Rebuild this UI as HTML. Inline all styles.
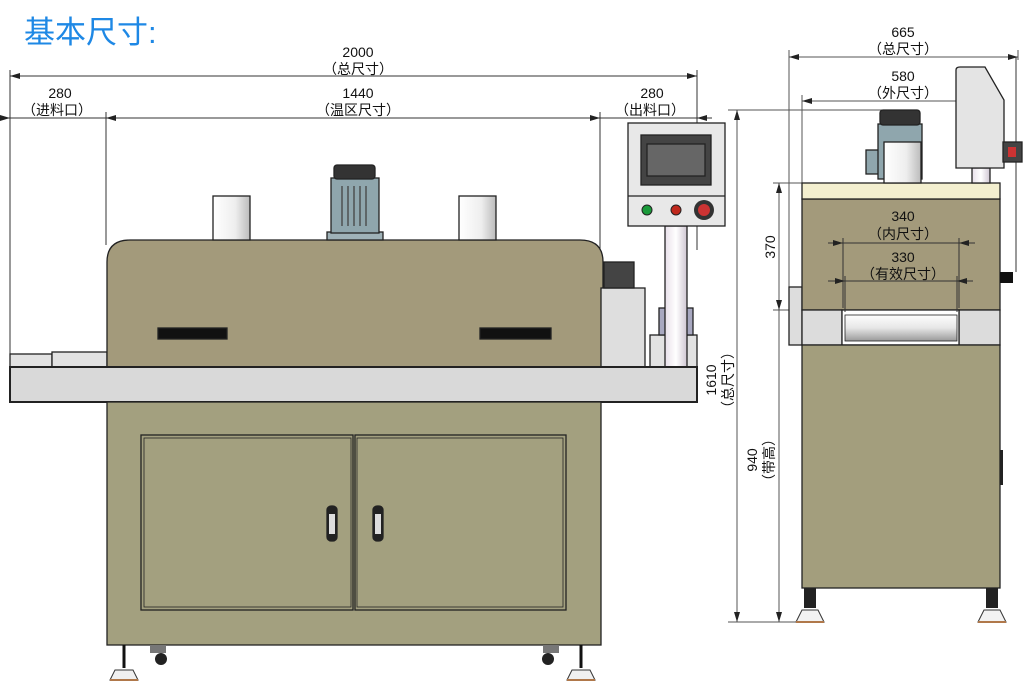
<!DOCTYPE html>
<html><head><meta charset="utf-8"><style>
html,body{margin:0;padding:0;background:#fff}
svg{display:block}
text{font-family:"Liberation Sans","Noto Sans CJK SC",sans-serif;fill:#111}
</style></head><body>
<svg width="1028" height="694" viewBox="0 0 1028 694" xmlns="http://www.w3.org/2000/svg">
<defs>
<marker id="a" markerWidth="10" markerHeight="6" refX="10" refY="3" orient="auto-start-reverse" markerUnits="userSpaceOnUse"><path d="M0,0 L10,3 L0,6 Z" fill="#222"/></marker>
<linearGradient id="cyl" x1="0" x2="1"><stop offset="0" stop-color="#fff"/><stop offset="0.6" stop-color="#eee"/><stop offset="1" stop-color="#bbb"/></linearGradient>
<linearGradient id="pole" x1="0" x2="1"><stop offset="0" stop-color="#e8e0ea"/><stop offset="0.5" stop-color="#fff"/><stop offset="1" stop-color="#cfc6d2"/></linearGradient>
<linearGradient id="roll" x1="0" x2="0" y1="0" y2="1"><stop offset="0" stop-color="#fff"/><stop offset="0.5" stop-color="#e6e6e6"/><stop offset="1" stop-color="#999"/></linearGradient>
</defs>

<text x="24" y="43" style="font-size:31px;fill:#1e88e5">基本尺寸:</text>

<!-- left dims -->
<g stroke="#333" stroke-width="1" fill="none">
<line x1="10" y1="70" x2="10" y2="370"/>
<line x1="697" y1="70" x2="697" y2="250"/>
<line x1="10" y1="76" x2="697" y2="76" marker-start="url(#a)" marker-end="url(#a)"/>
<line x1="106" y1="112" x2="106" y2="245"/>
<line x1="600" y1="112" x2="600" y2="255"/>
<line x1="0" y1="118" x2="10" y2="118" marker-end="url(#a)"/>
<line x1="10" y1="118" x2="106" y2="118"/>
<line x1="106" y1="118" x2="600" y2="118" marker-start="url(#a)" marker-end="url(#a)"/>
<line x1="600" y1="118" x2="697" y2="118"/>
<line x1="712" y1="118" x2="697" y2="118" marker-end="url(#a)"/>
</g>
<g style="font-size:14px" text-anchor="middle">
<text x="358" y="57">2000</text><text x="358" y="74">（总尺寸）</text>
<text x="60" y="98">280</text><text x="57" y="115">（进料口）</text>
<text x="358" y="98">1440</text><text x="358" y="115">（温区尺寸）</text>
<text x="652" y="98">280</text><text x="650" y="115">（出料口）</text>
</g>

<!-- left machine -->
<g stroke="#222" stroke-width="1.3">
<rect x="10" y="354" width="42" height="13" fill="#e2e2e2"/>
<rect x="52" y="352" width="55" height="15" fill="#e2e2e2"/>
<path d="M107,367 V262 Q107,240 130,240 H580 Q603,240 603,262 V367 Z" fill="#a39a7b"/>
<rect x="158" y="328" width="69" height="11" fill="#111"/>
<rect x="480" y="328" width="71" height="11" fill="#111"/>
<rect x="213" y="196" width="37" height="44" fill="url(#cyl)"/>
<rect x="459" y="196" width="37" height="44" fill="url(#cyl)"/>
<rect x="327" y="232" width="56" height="8" fill="#9fb2b8"/>
<rect x="331" y="178" width="48" height="55" fill="#8fa6ad"/>
<rect x="334" y="165" width="41" height="14" rx="3" fill="#333"/>
<rect x="601" y="288" width="44" height="79" fill="#dedede"/>
<rect x="604" y="262" width="30" height="26" fill="#444"/>
<rect x="650" y="335" width="47" height="32" fill="#e2e2e2"/>
<rect x="659" y="308" width="7" height="27" fill="#a8a8c0"/>
<rect x="686" y="308" width="7" height="27" fill="#a8a8c0"/>
<rect x="665" y="226" width="22" height="141" fill="url(#pole)"/>
<rect x="628" y="123" width="97" height="103" fill="#e8e8e8"/>
<line x1="628" y1="196" x2="725" y2="196"/>
<rect x="641" y="135" width="70" height="50" fill="#444"/>
<rect x="647" y="144" width="58" height="32" fill="#666"/>
<rect x="10" y="367" width="687" height="35" fill="#d9d9d9" stroke-width="2"/>
<rect x="107" y="402" width="494" height="243" fill="#a3a07f"/>
<rect x="141" y="435" width="212" height="175" fill="#a3a07f"/>
<rect x="355" y="435" width="211" height="175" fill="#a3a07f"/>
<rect x="144" y="438" width="207" height="169" fill="none" stroke-width="0.8"/>
<rect x="357" y="438" width="206" height="169" fill="none" stroke-width="0.8"/>
<rect x="327" y="506" width="10" height="35" rx="4" fill="#222"/>
<rect x="373" y="506" width="10" height="35" rx="4" fill="#222"/>
</g>
<rect x="329" y="514" width="6" height="20" fill="#ddd"/>
<rect x="375" y="514" width="6" height="20" fill="#ddd"/>
<g stroke="#444" stroke-width="1.3">
<line x1="342" y1="186" x2="342" y2="226"/><line x1="348" y1="186" x2="348" y2="226"/><line x1="354" y1="186" x2="354" y2="226"/><line x1="360" y1="186" x2="360" y2="226"/><line x1="366" y1="186" x2="366" y2="226"/>
</g>
<circle cx="647" cy="210" r="5" fill="#1a9a3a" stroke="#222"/>
<circle cx="676" cy="210" r="5" fill="#c0281c" stroke="#222"/>
<circle cx="704" cy="210" r="10" fill="#333"/><circle cx="704" cy="210" r="6" fill="#c33"/>
<!-- feet left -->
<g stroke="#111">
<line x1="124" y1="645" x2="124" y2="668" stroke-width="3"/>
<line x1="581" y1="645" x2="581" y2="668" stroke-width="3"/>
</g>
<path d="M110,680 L115,670 H133 L138,680 Z" fill="#f0f0f0" stroke="#333"/>
<path d="M567,680 L572,670 H590 L595,680 Z" fill="#f0f0f0" stroke="#333"/>
<rect x="110" y="679" width="28" height="2" fill="#b0784a"/><rect x="567" y="679" width="28" height="2" fill="#b0784a"/>
<circle cx="161" cy="659" r="6" fill="#222"/><circle cx="548" cy="659" r="6" fill="#222"/>
<rect x="150" y="645" width="16" height="8" fill="#777"/><rect x="543" y="645" width="16" height="8" fill="#777"/>

<!-- right view dims -->
<g stroke="#555" stroke-width="1" fill="none">
<line x1="789" y1="50" x2="789" y2="290"/>
<line x1="1018" y1="50" x2="1018" y2="60"/>
<line x1="1016" y1="57" x2="1016" y2="272" stroke="#333"/>
<line x1="789" y1="57" x2="1018" y2="57" marker-start="url(#a)" marker-end="url(#a)"/>
<line x1="802" y1="95" x2="802" y2="183"/>
<line x1="802" y1="101" x2="998" y2="101" marker-start="url(#a)"/>
<line x1="728" y1="110" x2="882" y2="110"/>
<line x1="737" y1="110" x2="737" y2="622" marker-start="url(#a)" marker-end="url(#a)"/>
<line x1="773" y1="183" x2="802" y2="183"/>
<line x1="773" y1="310" x2="802" y2="310"/>
<line x1="779" y1="183" x2="779" y2="310" marker-start="url(#a)" marker-end="url(#a)"/>
<line x1="779" y1="310" x2="779" y2="622" marker-end="url(#a)"/>
<line x1="728" y1="622" x2="800" y2="622"/>
</g>
<g style="font-size:14px" text-anchor="middle">
<text x="903" y="37">665</text><text x="903" y="54">（总尺寸）</text>
<text x="903" y="81">580</text><text x="903" y="98">（外尺寸）</text>
</g>
<text transform="translate(775,247) rotate(-90)" text-anchor="middle" style="font-size:14px">370</text>
<text transform="translate(716,380) rotate(-90)" text-anchor="middle" style="font-size:14px">1610</text>
<text transform="translate(733,380) rotate(-90)" text-anchor="middle" style="font-size:14px">（总尺寸）</text>
<text transform="translate(757,460) rotate(-90)" text-anchor="middle" style="font-size:14px">940</text>
<text transform="translate(774,460) rotate(-90)" text-anchor="middle" style="font-size:14px">（带高）</text>

<!-- right machine -->
<g stroke="#222" stroke-width="1.3">
<rect x="789" y="287" width="13" height="58" fill="#ddd"/>
<rect x="802" y="199" width="198" height="111" fill="#a39a7b"/>
<rect x="802" y="183" width="198" height="16" fill="#f3efcf"/>
<rect x="802" y="310" width="40" height="35" fill="#dcdcdc"/>
<rect x="959" y="310" width="41" height="35" fill="#dcdcdc"/>
<rect x="842" y="310" width="117" height="35" fill="#fff"/>
<rect x="845" y="315" width="112" height="26" fill="url(#roll)" stroke-width="0.8"/>
<rect x="802" y="345" width="198" height="243" fill="#a39e7d"/>
<rect x="866" y="150" width="20" height="24" fill="#8fa6ad"/>
<rect x="878" y="124" width="44" height="55" fill="#8fa6ad"/>
<rect x="880" y="110" width="40" height="15" rx="3" fill="#333"/>
<rect x="884" y="142" width="37" height="41" fill="url(#cyl)"/>
<rect x="972" y="168" width="18" height="15" fill="url(#pole)"/>
<path d="M956,70 Q956,67 960,67 H985 L1004,100 V168 H956 Z" fill="#e4e4e4"/>
<rect x="1003" y="142" width="19" height="20" fill="#444"/>
</g>
<rect x="1008" y="147" width="8" height="10" fill="#c33"/>
<rect x="1000" y="272" width="13" height="11" fill="#111"/>
<rect x="1000" y="450" width="3" height="35" fill="#222"/>
<!-- inner dims -->
<g stroke="#333" stroke-width="1" fill="none">
<line x1="843" y1="238" x2="843" y2="308"/>
<line x1="959" y1="238" x2="959" y2="308"/>
<line x1="845" y1="276" x2="845" y2="312"/>
<line x1="957" y1="276" x2="957" y2="312"/>
<line x1="828" y1="243" x2="843" y2="243" marker-end="url(#a)"/>
<line x1="843" y1="243" x2="959" y2="243"/>
<line x1="975" y1="243" x2="959" y2="243" marker-end="url(#a)"/>
<line x1="828" y1="281" x2="845" y2="281" marker-end="url(#a)"/>
<line x1="845" y1="281" x2="957" y2="281"/>
<line x1="973" y1="281" x2="957" y2="281" marker-end="url(#a)"/>
</g>
<g style="font-size:14px" text-anchor="middle">
<text x="903" y="221">340</text><text x="903" y="239">（内尺寸）</text>
<text x="903" y="262">330</text><text x="903" y="279">（有效尺寸）</text>
</g>
<!-- right feet -->
<g fill="#222"><rect x="804" y="588" width="12" height="20"/><rect x="986" y="588" width="12" height="20"/></g>
<path d="M796,622 L802,610 H818 L824,622 Z" fill="#f2f2f2" stroke="#333"/>
<path d="M978,622 L984,610 H1000 L1006,622 Z" fill="#f2f2f2" stroke="#333"/>
<rect x="796" y="621" width="28" height="2" fill="#b0784a"/><rect x="978" y="621" width="28" height="2" fill="#b0784a"/>
</svg>
</body></html>
